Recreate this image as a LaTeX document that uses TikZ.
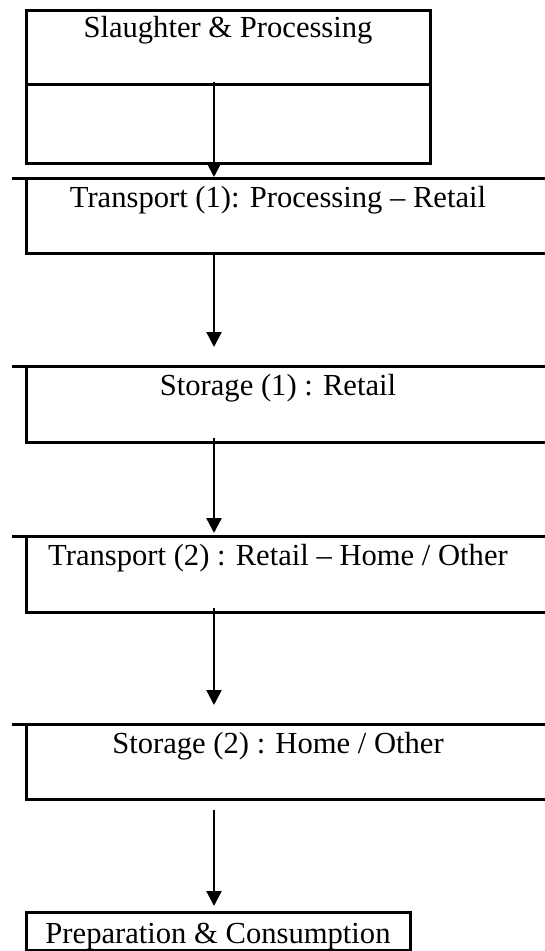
\documentclass[tikz,border=0pt]{standalone}
\usepackage{fontspec}
\setmainfont{Liberation Serif}
\usetikzlibrary{arrows.meta}
\begin{document}
\begin{tikzpicture}[x=1pt, y=-1pt,
  box/.style={draw, line width=3pt, outer sep=0pt, inner sep=0pt, anchor=north west},
  lbl/.style={anchor=base, inner sep=0pt, font=\fontsize{30.6}{36}\selectfont},
  flow/.style={line width=2.3pt, -{Triangle[width=15pt, length=15pt]}}]
\useasboundingbox (0,0) rectangle (544,951);

% Boxes (the wide ones run off the right edge)
\node[box, minimum width=404pt, minimum height=153pt] (slaughter) at (26,10) {};
\node[box, minimum width=560pt, minimum height=75pt] (transport1) at (26,178) {};
\node[box, minimum width=560pt, minimum height=76pt] (storage1) at (26,366) {};
\node[box, minimum width=560pt, minimum height=76pt] (transport2) at (26,536) {};
\node[box, minimum width=560pt, minimum height=75pt] (storage2) at (26,724) {};
\node[box, minimum width=384pt, minimum height=38pt] (consumption) at (26,912) {};

% Divider in the first box
\coordinate (div) at ([yshift=-74.5pt]slaughter.north);
\draw[line width=3pt] (div -| slaughter.west) -- (div -| slaughter.east);

% Small ticks left of the top edges
\foreach \b in {transport1, storage1, transport2, storage2}
  \draw[line width=3pt] (\b.north west) -- ++(-14,0);

% Labels
\node[lbl] (slaughterlbl) at ([yshift=-27pt]slaughter.north) {Slaughter \& Processing};
\node[lbl] (transport1lbl) at (278,207) {Transport (1): Processing – Retail};
\node[lbl] (storage1lbl) at (278,395) {Storage (1) : Retail};
\node[lbl] (transport2lbl) at (278,565) {Transport (2) : Retail – Home / Other};
\node[lbl] (storage2lbl) at (278,753) {Storage (2) : Home / Other};
\node[lbl] (consumptionlbl) at (218,943) {Preparation \& Consumption};

% Arrows
\coordinate (ax) at (214,0);
\draw[flow, shorten <=-2.5pt, shorten >=1pt] (div -| ax) -- (transport1.north -| ax);
\draw[flow, shorten <=-1pt, shorten >=19pt] (transport1.south -| ax) -- (storage1.north -| ax);
\draw[flow, shorten <=-4pt, shorten >=3pt] (storage1.south -| ax) -- (transport2.north -| ax);
\draw[flow, shorten <=-4pt, shorten >=19pt] (transport2.south -| ax) -- (storage2.north -| ax);
\draw[flow, shorten <=11pt, shorten >=6pt] (storage2.south -| ax) -- (consumption.north -| ax);
\end{tikzpicture}
\end{document}
